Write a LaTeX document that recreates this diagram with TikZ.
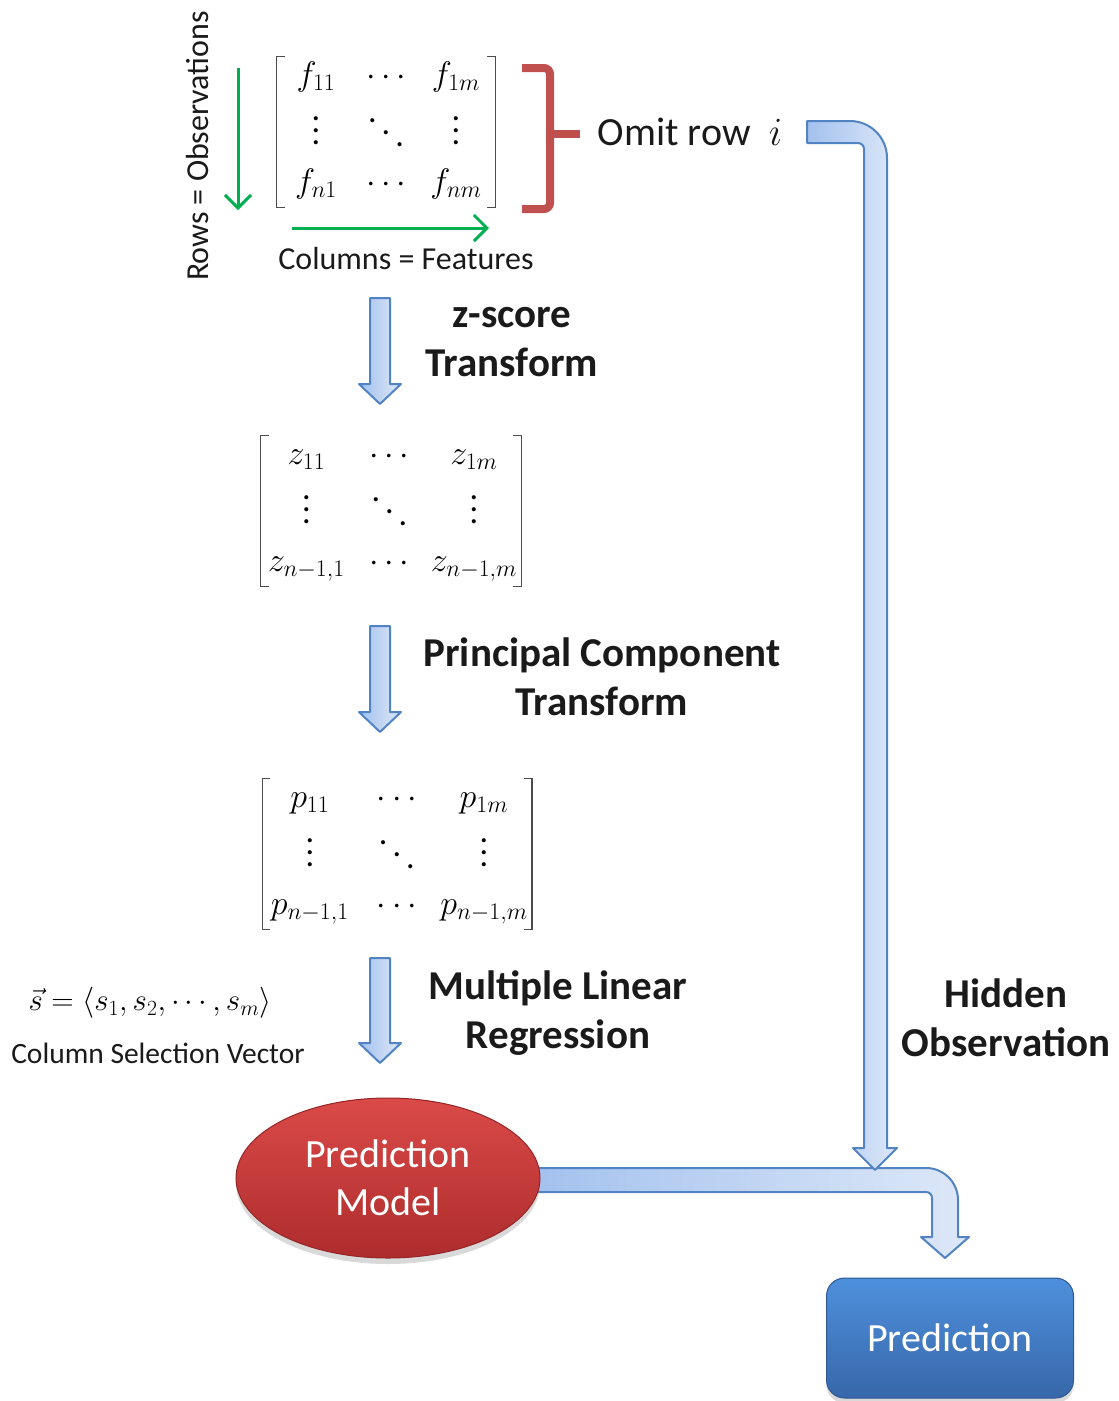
\documentclass[tikz,border=0pt]{standalone}
\usepackage{fix-cm}
\usepackage{fontspec}
\setmainfont{Carlito}
\usetikzlibrary{matrix,arrows.meta,shadows,shapes.geometric,positioning}

\definecolor{featgreen}{HTML}{00B050}
\definecolor{bracered}{HTML}{C0504D}
\definecolor{arrline}{HTML}{5283C2}
\definecolor{arrdark}{HTML}{A3C1EE}
\definecolor{arrlight}{HTML}{DDE8F8}
\definecolor{modeltop}{HTML}{DA4A48}
\definecolor{modelbot}{HTML}{AE2C2D}
\definecolor{predtop}{HTML}{4E90DC}
\definecolor{predbot}{HTML}{3767AA}
\definecolor{ink}{HTML}{1A1A1A}

\newcommand{\matfont}{\fontsize{34}{40}\selectfont}
% dots that grow with the font
\newcommand{\vdotz}{\vcenter{\baselineskip=12pt \lineskiplimit=0pt \hbox{.}\hbox{.}\hbox{.}}}
\newcommand{\ddotz}{\mathinner{\raise17pt\hbox{.}\kern5pt\raise5pt\hbox{.}\kern5pt\raise-7pt\hbox{.}}}
% down block arrow: x, top, tip
\newcommand{\downblock}[3]{%
  \draw[blockarrow] (#1-10,#2) -- (#1+10,#2) -- (#1+10,#3-20) -- (#1+21,#3-20)
    -- (#1,#3) -- (#1-21,#3-20) -- (#1-10,#3-20) -- cycle;}
% square brackets round a matrix
\newcommand{\matbrackets}[1]{%
  \draw[brk] ([xshift=4pt,yshift=7pt]#1.north west) -- ([xshift=-4pt,yshift=7pt]#1.north west)
    -- ([xshift=-4pt,yshift=-7pt]#1.south west) -- ([xshift=4pt,yshift=-7pt]#1.south west);
  \draw[brk] ([xshift=-4pt,yshift=7pt]#1.north east) -- ([xshift=4pt,yshift=7pt]#1.north east)
    -- ([xshift=4pt,yshift=-7pt]#1.south east) -- ([xshift=-4pt,yshift=-7pt]#1.south east);}

\begin{document}
\begin{tikzpicture}[x=1pt,y=-1pt,
  lbl/.style={font=\fontsize{32}{38}\selectfont, text=ink, inner sep=0},
  steplbl/.style={font=\bfseries\fontsize{41}{49}\selectfont, align=center, text=ink, inner sep=0},
  mat/.style={matrix of math nodes, row sep=23.5, inner sep=0,
    nodes={minimum width=#1, text height=22, text depth=8, inner sep=0, font=\matfont}},
  brk/.style={draw=black!70, line width=1.2},
  greenarr/.style={draw=featgreen, line width=3, -{Straight Barb[length=13,width=26,line width=3]}},
  brace/.style={draw=bracered, line width=8, rounded corners=6},
  blockarrow/.style={draw=arrline, line width=2, left color=arrdark, right color=arrlight, line join=round},
  model/.style={ellipse, minimum width=304, minimum height=160, inner sep=0, align=center,
    top color=modeltop, bottom color=modelbot, draw=modelbot!85!black, line width=1,
    text=white, font=\fontsize{40}{48}\selectfont,
    drop shadow={shadow xshift=0pt, shadow yshift=-6pt, opacity=0.3}},
  pred/.style={rectangle, rounded corners=18, minimum width=247, minimum height=120,
    top color=predtop, bottom color=predbot, draw=predbot!85!black, line width=1,
    text=white, font=\fontsize{40}{48}\selectfont,
    drop shadow={shadow xshift=0pt, shadow yshift=-5pt, opacity=0.3}}]
\useasboundingbox (0,0) rectangle (1119,1401);

% data matrix
\matrix (fmat) [mat=70] at (386,132) {
  f_{11} & \cdots & f_{1m} \\
  \vdotz & \ddotz & \vdotz \\
  f_{n1} & \cdots & f_{nm} \\
};
\matbrackets{fmat}

\coordinate (rowtop) at (238,68);
\coordinate (rowbot) at (238,210);
\coordinate (colleft) at (292,228);
\coordinate (colright) at (489,228);
\draw[greenarr] (rowtop) -- (rowbot);
\draw[greenarr] (colleft) -- (colright);
\node[lbl, rotate=90] (rows) at (198,146) {Rows = Observations};
\node[lbl] (cols) at (406,259) {Columns = Features};

\draw[brace] (522,68) -- (550,68) -- (550,209) -- (522,209);
\draw[brace, rounded corners=3] (550,134) -- (580,134);
\node[font=\fontsize{40}{48}\selectfont, text=ink, inner sep=0] (omit) at (690,132) {Omit row \ $i$};

% z-score step
\downblock{380}{298}{404}
\node[steplbl] (zlbl) at (512,342) {z-score\\Transform};

\matrix (zmat) [mat=83] at (391,511) {
  z_{11} & \cdots & z_{1m} \\
  \vdotz & \ddotz & \vdotz \\
  z_{n-1,1} & \cdots & z_{n-1,m} \\
};
\matbrackets{zmat}

% principal components
\downblock{380}{626}{732}
\node[steplbl] (pclbl) at (602,677) {Principal Component\\Transform};

\matrix (pmat) [mat=87] at (397,854) {
  p_{11} & \cdots & p_{1m} \\
  \vdotz & \ddotz & \vdotz \\
  p_{n-1,1} & \cdots & p_{n-1,m} \\
};
\matbrackets{pmat}

% regression
\downblock{380}{958}{1063}
\node[steplbl] (mlrlbl) at (558,1013) {Multiple Linear\\Regression};
\node[font=\fontsize{31}{36}\selectfont, inner sep=0] (svec) at (150,1003)
  {$\vec{s} = \Bigl\langle s_1, s_2, \cdots, s_m \Bigr\rangle$};
\node[lbl, font=\fontsize{29.5}{34}\selectfont] (csv) at (158,1053) {Column Selection Vector};

% bent arrows
\draw[blockarrow] (530,1168) [rounded corners=32] -- (958,1168) [sharp corners] -- (958,1237)
  -- (969,1237) -- (945,1258) -- (921,1237) -- (932,1237) [rounded corners=6] -- (932,1192)
  [sharp corners] -- (530,1192) -- cycle;
\draw[blockarrow] (807,121) [rounded corners=37] -- (887,121) [sharp corners] -- (887,1148)
  -- (897,1148) -- (875,1170) -- (853,1148) -- (864,1148) [rounded corners=6] -- (864,143)
  [sharp corners] -- (807,143) -- cycle;
\node[steplbl] (hidlbl) at (1006,1018) {Hidden\\Observation};

\node[model] (model) at (388,1178) {Prediction\\Model};
\node[pred] (pred) at (950,1338) {Prediction};
\end{tikzpicture}
\end{document}
